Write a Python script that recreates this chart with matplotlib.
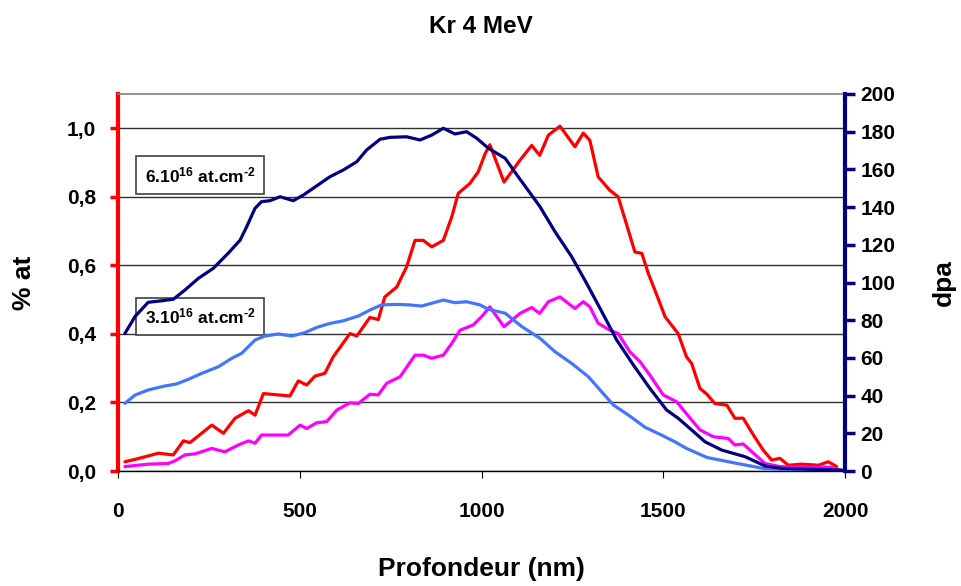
import matplotlib
matplotlib.use("Agg")
import matplotlib.pyplot as plt
import numpy as np

plt.rcParams["font.family"] = ["Liberation Sans", "DejaVu Sans"]
plt.rcParams["font.weight"] = "bold"
plt.rcParams["mathtext.fontset"] = "custom"
plt.rcParams["mathtext.rm"] = "Liberation Sans:bold"
plt.rcParams["mathtext.it"] = "Liberation Sans:bold"
plt.rcParams["mathtext.bf"] = "Liberation Sans:bold"

# Kr concentration profiles (% at) for the two fluences
depth_6e16 = [19, 47, 83, 111, 152, 180, 198, 230, 258, 290, 322, 359, 377, 400, 441, 473,
              496, 519, 542, 569, 592, 615, 638, 657, 693, 716, 734, 767, 794, 817, 840, 863,
              895, 918, 936, 968, 991, 1010, 1023, 1062, 1106, 1138, 1160, 1184, 1216, 1257,
              1280, 1298, 1321, 1353, 1376, 1422, 1441, 1459, 1486, 1505, 1541, 1564, 1578,
              1601, 1620, 1642, 1675, 1697, 1720, 1748, 1775, 1798, 1821, 1844, 1881, 1927,
              1954, 1977]
kr_6e16 = [0.027, 0.034, 0.044, 0.052, 0.047, 0.088, 0.083, 0.110, 0.134, 0.110, 0.154, 0.176,
           0.163, 0.226, 0.222, 0.219, 0.263, 0.251, 0.277, 0.285, 0.333, 0.367, 0.401, 0.394,
           0.448, 0.442, 0.508, 0.537, 0.596, 0.673, 0.673, 0.654, 0.673, 0.741, 0.810, 0.839,
           0.873, 0.926, 0.952, 0.843, 0.907, 0.950, 0.921, 0.980, 1.006, 0.946, 0.986, 0.965,
           0.858, 0.819, 0.800, 0.639, 0.635, 0.576, 0.503, 0.450, 0.401, 0.333, 0.314, 0.241,
           0.224, 0.197, 0.192, 0.154, 0.154, 0.105, 0.061, 0.032, 0.037, 0.017, 0.020, 0.017,
           0.027, 0.013]

depth_3e16 = [19, 83, 138, 157, 184, 212, 258, 294, 331, 359, 377, 395, 468, 501, 519, 547,
              574, 602, 638, 661, 693, 716, 739, 776, 817, 840, 863, 895, 918, 941, 977, 1000,
              1023, 1062, 1106, 1138, 1160, 1184, 1216, 1257, 1280, 1298, 1321, 1353, 1376,
              1408, 1436, 1463, 1500, 1537, 1574, 1601, 1638, 1679, 1697, 1720, 1748, 1780,
              1821, 1876, 1959, 1991]
kr_3e16 = [0.013, 0.020, 0.022, 0.030, 0.047, 0.050, 0.066, 0.056, 0.076, 0.088, 0.081, 0.105,
           0.105, 0.134, 0.124, 0.141, 0.144, 0.178, 0.199, 0.197, 0.224, 0.222, 0.256, 0.275,
           0.338, 0.338, 0.329, 0.338, 0.372, 0.411, 0.426, 0.450, 0.479, 0.421, 0.460, 0.477,
           0.460, 0.494, 0.508, 0.474, 0.494, 0.479, 0.431, 0.411, 0.401, 0.348, 0.319, 0.280,
           0.222, 0.202, 0.154, 0.120, 0.100, 0.095, 0.076, 0.079, 0.052, 0.022, 0.013, 0.011,
           0.011, 0.001]

# damage profiles (dpa)
depth_dpa_6e16 = [19, 47, 83, 120, 152, 184, 221, 262, 303, 336, 354, 377, 395, 418, 446, 482,
                  510, 537, 583, 620, 657, 684, 721, 748, 794, 831, 863, 895, 927, 959, 987,
                  1019, 1065, 1101, 1161, 1202, 1248, 1289, 1331, 1372, 1418, 1463, 1509, 1541,
                  1578, 1615, 1661, 1725, 1780, 1826, 1917, 1991]
dpa_6e16 = [73.0, 82.0, 89.5, 90.3, 91.1, 96.0, 102.2, 107.5, 115.5, 122.5, 129.6, 139.4, 142.9,
            143.4, 145.5, 143.4, 146.4, 150.0, 156.1, 159.7, 164.1, 170.3, 176.0, 177.0, 177.3,
            175.6, 178.2, 181.8, 178.8, 180.0, 176.5, 171.2, 165.9, 156.1, 140.2, 127.0, 113.7,
            99.6, 84.5, 69.5, 56.2, 43.9, 32.4, 28.0, 21.8, 15.5, 11.1, 7.6, 2.7, 1.4, 0.9, 0.5]

depth_dpa_3e16 = [19, 47, 83, 129, 161, 193, 230, 276, 313, 340, 377, 404, 441, 478, 514, 547,
                  583, 620, 661, 693, 725, 767, 803, 835, 863, 895, 927, 959, 996, 1019, 1065,
                  1111, 1161, 1202, 1248, 1294, 1326, 1363, 1404, 1450, 1496, 1532, 1564, 1620,
                  1693, 1775, 1876, 1991]
dpa_3e16 = [35.9, 40.3, 43.0, 45.1, 46.2, 48.6, 51.8, 55.3, 59.8, 62.4, 69.5, 71.6, 72.7, 71.6,
            73.4, 76.2, 78.3, 79.7, 82.2, 85.4, 88.1, 88.4, 88.1, 87.5, 89.0, 90.7, 89.3, 89.8,
            88.1, 85.8, 83.7, 76.6, 70.4, 63.3, 57.1, 50.0, 43.0, 35.0, 29.7, 23.2, 19.0, 15.5,
            12.0, 7.2, 4.4, 1.4, 0.5, 0.2]

x_ticks = [0, 500, 1000, 1500, 2000]
left_ticks = [0.0, 0.2, 0.4, 0.6, 0.8, 1.0]
right_ticks = list(range(0, 201, 20))

RED = "#FF0000"
MAGENTA = "#FF00FF"
NAVY = "#000080"
LIGHT_BLUE = "#4276FF"

fig = plt.figure(figsize=(9.61, 5.86), dpi=100)
ax = fig.add_axes([0.1228, 0.1962, 0.7565, 0.6434])
ax2 = ax.twinx()

line_kw = dict(lw=2.3, solid_joinstyle="round", solid_capstyle="round")
ax.plot(depth_6e16, kr_6e16, color=RED, zorder=3, **line_kw)
ax.plot(depth_3e16, kr_3e16, color=MAGENTA, zorder=3, **line_kw)
ax2.plot(depth_dpa_3e16, dpa_3e16, color=LIGHT_BLUE, **line_kw)
ax2.plot(depth_dpa_6e16, dpa_6e16, color=NAVY, **line_kw)

ax.set_xlim(0, 2000)
ax.set_ylim(0, 1.1)
ax2.set_ylim(0, 200)

ax.set_xticks(x_ticks)
ax.set_yticks(left_ticks)
ax.set_yticklabels([f"{v:.1f}".replace(".", ",") for v in left_ticks])
ax2.set_yticks(right_ticks)

ax.yaxis.grid(True, color="#303030", lw=1.0)
ax.set_axisbelow(True)

for s in ("left", "right", "top", "bottom"):
    ax2.spines[s].set_visible(s == "right")
ax.spines["right"].set_visible(False)
ax.spines["left"].set_color(RED)
ax.spines["left"].set_linewidth(3)
ax.spines["top"].set_color("#808080")
ax.spines["top"].set_linewidth(1.2)
ax.spines["bottom"].set_color("black")
ax.spines["bottom"].set_linewidth(1.0)
ax2.spines["right"].set_color(NAVY)
ax2.spines["right"].set_linewidth(3)

ax.tick_params(axis="x", direction="out", length=5, width=0.8, color="black",
               pad=17, labelsize=15)
ax.tick_params(axis="y", direction="out", length=6, width=2.5, color=RED,
               pad=10, labelsize=15)
ax2.tick_params(axis="y", direction="out", length=7, width=2.5, color=NAVY,
                pad=4, labelsize=15)

ax.set_xlabel("Profondeur (nm)", fontsize=19, fontweight="bold", labelpad=26)
ax.set_ylabel("% at", fontsize=19, fontweight="bold", labelpad=22)
ax2.set_ylabel("dpa", fontsize=19, fontweight="bold", labelpad=26)
fig.suptitle("Kr 4 MeV", x=0.5, y=0.975, fontsize=17.5, fontweight="bold")

box = dict(boxstyle="square,pad=0.5", fc="white", ec="#404040", lw=1.2)
ax.text(0.1128, 0.785, r"6.10$^{16}$ at.cm$^{\text{-2}}$", transform=ax.transAxes,
        ha="center", va="center", fontsize=12.5, fontweight="bold", bbox=box, zorder=5)
ax.text(0.1128, 0.41, r"3.10$^{16}$ at.cm$^{\text{-2}}$", transform=ax.transAxes,
        ha="center", va="center", fontsize=12.5, fontweight="bold", bbox=box, zorder=5)

fig.savefig("out.png", dpi=100)
